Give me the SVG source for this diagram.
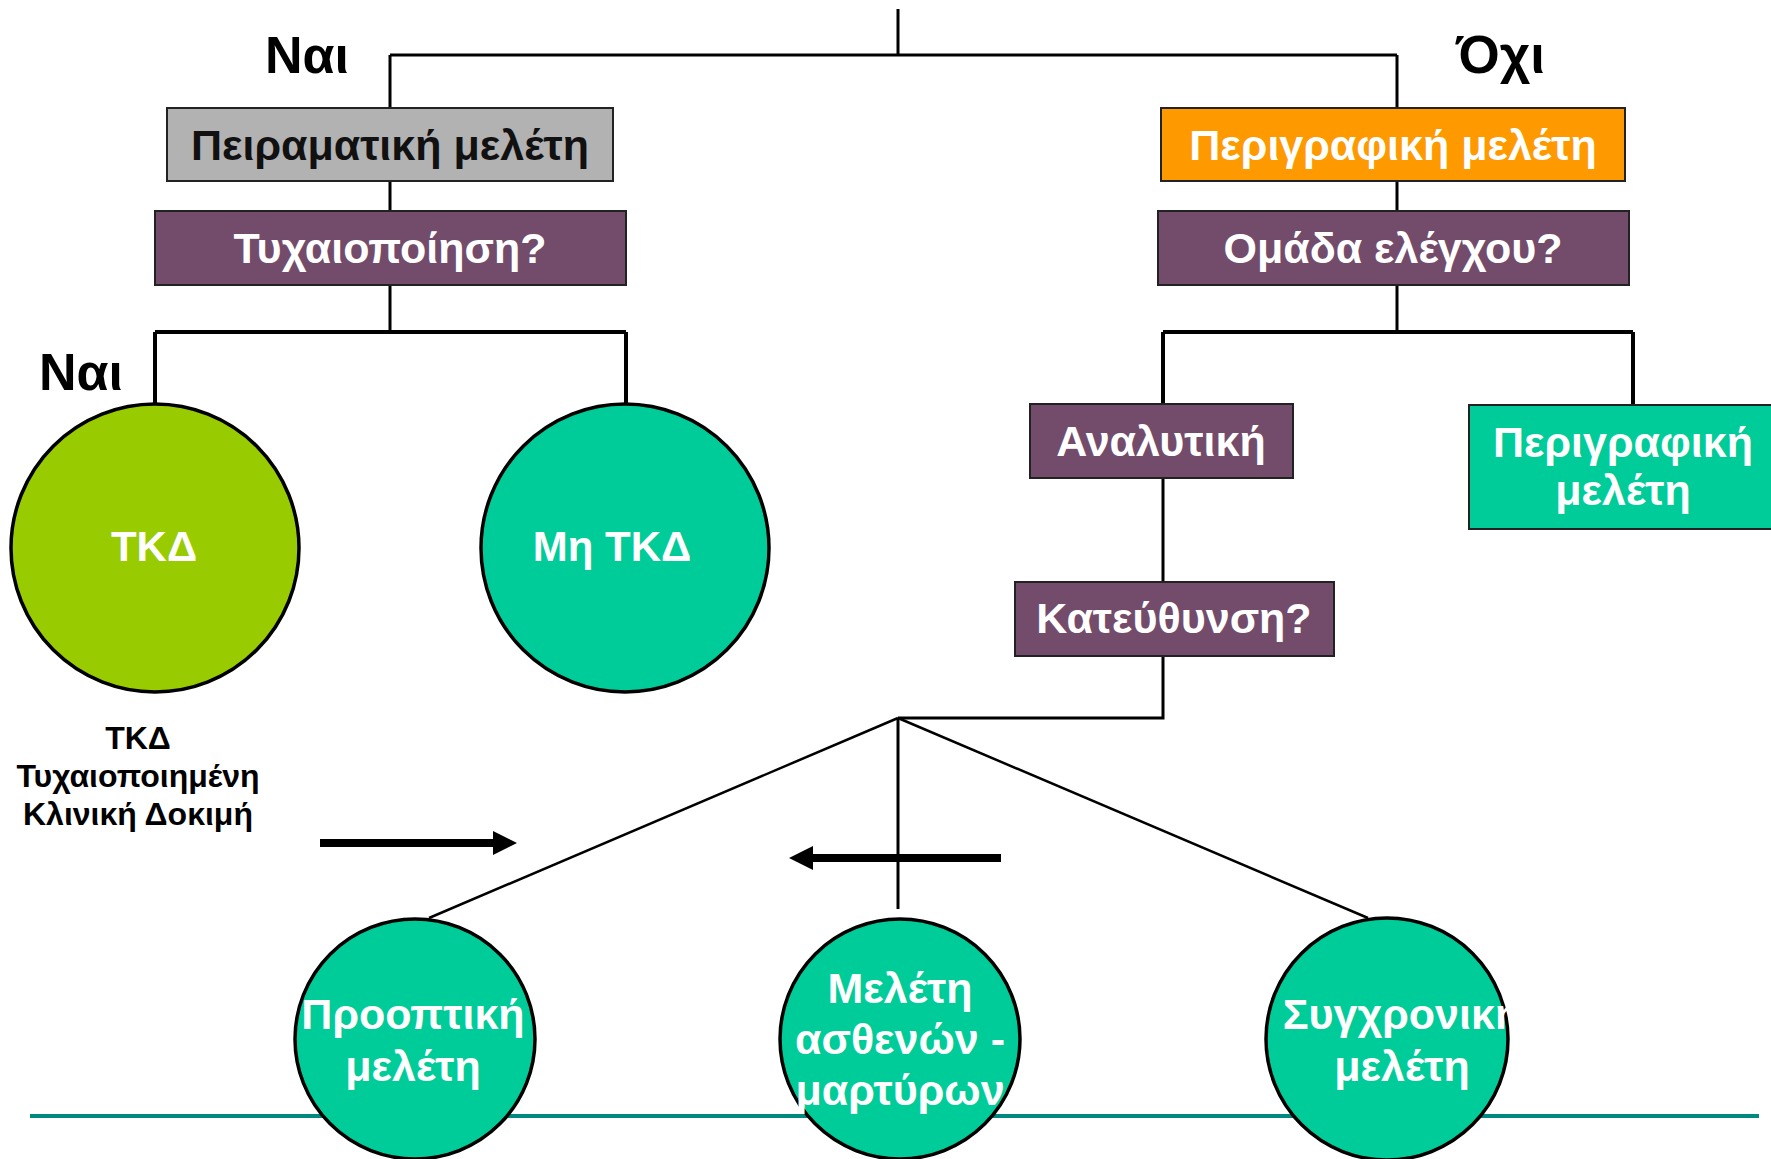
<svg xmlns="http://www.w3.org/2000/svg" width="1771" height="1159" viewBox="0 0 1771 1159">
  <style>
    .bg { fill: #ffffff; }
    .wire { fill: none; stroke: #000; stroke-width: 3; }
    .wire-thick { fill: none; stroke: #000; stroke-width: 4; }
    .wire-thin { fill: none; stroke: #000; stroke-width: 2.5; }
    .arrow { fill: none; stroke: #000; stroke-width: 8; }
    .box { stroke: #222; stroke-width: 2; }
    .grey { fill: #B2B2B2; }
    .purple { fill: #734B6B; }
    .orange { fill: #FF9900; }
    .green { fill: #00CC99; }
    .lime { fill: #99CC00; }
    .ring { stroke: #000; stroke-width: 3.5; }
    text { font-family: "Liberation Sans", Arial, sans-serif; font-weight: bold; }
    .lbl { font-size: 43px; fill: #fff; text-anchor: middle; }
    .dark { fill: #111; }
    .answer { font-size: 52px; fill: #000; }
    .caption { font-size: 32px; fill: #000; text-anchor: middle; }
  </style>
  <defs>
    <marker id="head" markerUnits="userSpaceOnUse" markerWidth="24" markerHeight="24" viewBox="0 0 24 24" refX="0" refY="12" orient="auto">
      <path d="M0,0 L24,12 L0,24 Z" fill="#000"/>
    </marker>
  </defs>

  <rect class="bg" x="0" y="0" width="1771" height="1159"/>

  <!-- baseline rule behind the bottom circles -->
  <line x1="30" y1="1116" x2="1759" y2="1116" stroke="#00897F" stroke-width="4"/>

  <g id="connectors">
    <path class="wire" d="M898,9 V55 M390,55 H1397 M390,55 V108 M1397,55 V108"/>
    <path class="wire" d="M390,181 V211 M390,285 V332"/>
    <path class="wire-thick" d="M155,332 H626 M155,332 V404 M626,332 V404"/>
    <path class="wire" d="M1397,181 V211 M1397,285 V332"/>
    <path class="wire-thick" d="M1163,332 H1633 M1163,332 V404 M1633,332 V404"/>
    <path class="wire" d="M1163,478 V582 M1163,656 V718 H898"/>
    <path class="wire-thin" d="M898,718 L429,918 M898,718 L1368,918"/>
    <path class="wire" d="M898,718 V909"/>
    <line class="arrow" x1="320" y1="843" x2="493" y2="843" marker-end="url(#head)"/>
    <line class="arrow" x1="1001" y1="858" x2="813" y2="858" marker-end="url(#head)"/>
  </g>

  <!-- branch answers -->
  <g id="answers">
    <text class="answer" x="265" y="73">Ναι</text>
    <text class="answer" x="1456" y="73" style="font-size:53px">Όχι</text>
    <text class="answer" x="39" y="390">Ναι</text>
  </g>

  <g id="experimental">
    <rect class="box grey" x="167" y="108" width="446" height="73"/>
    <text class="lbl dark" x="390" y="160">Πειραματική μελέτη</text>
  </g>

  <g id="randomisation">
    <rect class="box purple" x="155" y="211" width="471" height="74"/>
    <text class="lbl" x="390" y="263">Τυχαιοποίηση?</text>
  </g>

  <g id="descriptive">
    <rect class="box orange" x="1161" y="108" width="464" height="73"/>
    <text class="lbl" x="1393" y="160">Περιγραφική μελέτη</text>
  </g>

  <g id="control-group">
    <rect class="box purple" x="1158" y="211" width="471" height="74"/>
    <text class="lbl" x="1393" y="263">Ομάδα ελέγχου?</text>
  </g>

  <g id="rct">
    <circle class="ring lime" cx="155" cy="548" r="144"/>
    <text class="lbl" x="154" y="561" style="font-size:42px">ΤΚΔ</text>
  </g>

  <g id="non-rct">
    <circle class="ring green" cx="625" cy="548" r="144"/>
    <text class="lbl" x="612" y="561" style="font-size:42px">Μη ΤΚΔ</text>
  </g>

  <g id="rct-caption">
    <text class="caption" x="138" y="749">ΤΚΔ</text>
    <text class="caption" x="138" y="787">Τυχαιοποιημένη</text>
    <text class="caption" x="138" y="825">Κλινική Δοκιμή</text>
  </g>

  <g id="analytic">
    <rect class="box purple" x="1030" y="404" width="263" height="74"/>
    <text class="lbl" x="1161" y="456">Αναλυτική</text>
  </g>

  <g id="descriptive-study">
    <rect class="box green" x="1469" y="405" width="310" height="124"/>
    <text class="lbl" x="1623" y="457">Περιγραφική</text>
    <text class="lbl" x="1623" y="505">μελέτη</text>
  </g>

  <g id="direction">
    <rect class="box purple" x="1015" y="582" width="319" height="74"/>
    <text class="lbl" x="1174" y="633">Κατεύθυνση?</text>
  </g>

  <g id="prospective">
    <circle class="ring green" cx="415" cy="1039" r="120"/>
    <text class="lbl" x="413" y="1029">Προοπτική</text>
    <text class="lbl" x="413" y="1081">μελέτη</text>
  </g>

  <g id="case-control">
    <circle class="ring green" cx="900" cy="1039" r="120"/>
    <text class="lbl" x="900" y="1003">Μελέτη</text>
    <text class="lbl" x="900" y="1054">ασθενών -</text>
    <text class="lbl" x="900" y="1105">μαρτύρων</text>
  </g>

  <g id="cross-sectional">
    <circle class="ring green" cx="1387" cy="1039" r="121"/>
    <text class="lbl" x="1402" y="1029">Συγχρονική</text>
    <text class="lbl" x="1402" y="1081">μελέτη</text>
  </g>
</svg>
